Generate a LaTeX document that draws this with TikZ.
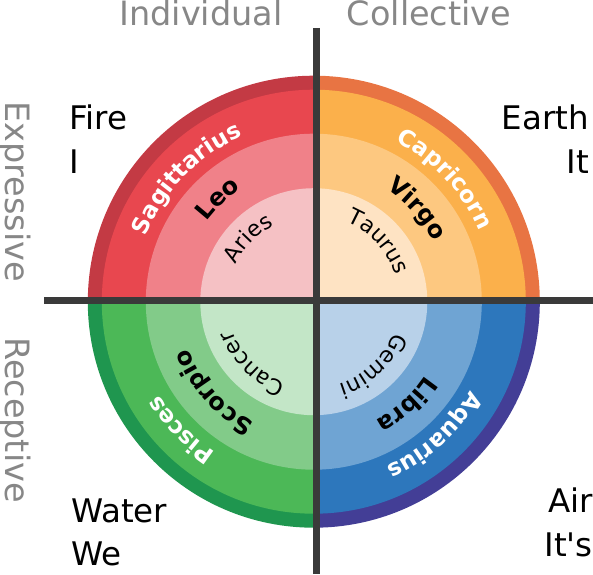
\documentclass[tikz,border=0pt]{standalone}
\usepackage{fontspec}
\setmainfont{DejaVu Sans}[Ligatures=TeXOff]
\usetikzlibrary{decorations.text}
\definecolor{fireRim}{HTML}{C33A44}
\definecolor{fireOut}{HTML}{E8474F}
\definecolor{fireMid}{HTML}{F08189}
\definecolor{fireIn}{HTML}{F5C1C4}
\definecolor{earthRim}{HTML}{E87443}
\definecolor{earthOut}{HTML}{FBB04B}
\definecolor{earthMid}{HTML}{FDC880}
\definecolor{earthIn}{HTML}{FEE3C3}
\definecolor{waterRim}{HTML}{1F964F}
\definecolor{waterOut}{HTML}{4CB857}
\definecolor{waterMid}{HTML}{82CB89}
\definecolor{waterIn}{HTML}{C3E6C7}
\definecolor{airRim}{HTML}{433E96}
\definecolor{airOut}{HTML}{2D77BC}
\definecolor{airMid}{HTML}{6FA4D3}
\definecolor{airIn}{HTML}{B8D1E9}
\definecolor{axisgray}{HTML}{3A3A3A}
\definecolor{sidegray}{HTML}{878787}
\newcommand\zsector[3]{\fill[#3] (C) -- ([shift={(#1:#2)}]C) arc[start angle=#1, end angle=#1+90, radius=#2] -- cycle;}
\newcommand\zquadrant[5]{\zsector{#1}{226}{#2}\zsector{#1}{212}{#3}\zsector{#1}{168}{#4}\zsector{#1}{113.5}{#5}}
\newcommand\zarclabel[4]{\path[decorate, decoration={text along path, text align=center, text={|#3|#4}}] ([shift={(#1+44:#2)}]C) arc[start angle=#1+44, end angle=#1-44, radius=#2];}
\newcommand\outerfmt{\fontsize{23}{23}\selectfont\bfseries\color{white}}
\newcommand\midfmt{\fontsize{24}{24}\selectfont\bfseries\color{black}}
\newcommand\innerfmt{\fontsize{22}{22}\selectfont\color{black}}
\begin{document}
\begin{tikzpicture}[x=1pt,y=1pt,
  axisline/.style={line width=6.8pt, draw=axisgray},
  elem/.style={font=\fontsize{32.5}{32.5}\selectfont, inner sep=0pt, text=black},
  side/.style={font=\fontsize{33.5}{33.5}\selectfont, inner sep=0pt, text=sidegray}]
\useasboundingbox (0,0) rectangle (593,574);
\coordinate (C) at (313.8,272.3);
% quadrants
\zquadrant{90}{fireRim}{fireOut}{fireMid}{fireIn}
\zquadrant{0}{earthRim}{earthOut}{earthMid}{earthIn}
\zquadrant{180}{waterRim}{waterOut}{waterMid}{waterIn}
\zquadrant{270}{airRim}{airOut}{airMid}{airIn}
% ring labels
\zarclabel{136}{180}{\outerfmt}{Sagittarius}
\zarclabel{133}{134}{\midfmt}{Leo}
\zarclabel{136}{86}{\innerfmt}{Aries}
\zarclabel{43}{180}{\outerfmt}{Capricorn}
\zarclabel{42}{134}{\midfmt}{Virgo}
\zarclabel{43}{86}{\innerfmt}{Taurus}
\zarclabel{224}{180}{\outerfmt}{Pisces}
\zarclabel{222}{134}{\midfmt}{Scorpio}
\zarclabel{225}{86}{\innerfmt}{Cancer}
\zarclabel{312}{180}{\outerfmt}{Aquarius}
\zarclabel{312}{134}{\midfmt}{Libra}
\zarclabel{313}{86}{\innerfmt}{Gemini}
% axes
\coordinate (hl) at (44,273.2);
\coordinate (hr) at (593,273.2);
\coordinate (vt) at (316.7,546);
\coordinate (vb) at (316.7,0);
\draw[axisline] (hl) -- (hr);
\draw[axisline] (vt) -- (vb);
% element labels
\node[elem, anchor=base west] (fire) at (69,444) {Fire};
\node[elem, anchor=base west] (fireI) at (69,401) {I};
\node[elem, anchor=base east] (earth) at (589,444) {Earth};
\node[elem, anchor=base east] (earthIt) at (589,401) {It};
\node[elem, anchor=base west] (water) at (71,52) {Water};
\node[elem, anchor=base west] (waterWe) at (71,9) {We};
\node[elem, anchor=base east] (air) at (593,62) {Air};
\node[elem, anchor=base east] (airIts) at (593,18) {It's};
% side labels
\node[side, anchor=base] (indiv) at (201,548) {Individual};
\node[side, anchor=base] (coll) at (429,548) {Collective};
\node[side, rotate=-90] (expr) at (15,382.5) {Expressive};
\node[side, rotate=-90] (recep) at (15,154) {Receptive};
\end{tikzpicture}
\end{document}
